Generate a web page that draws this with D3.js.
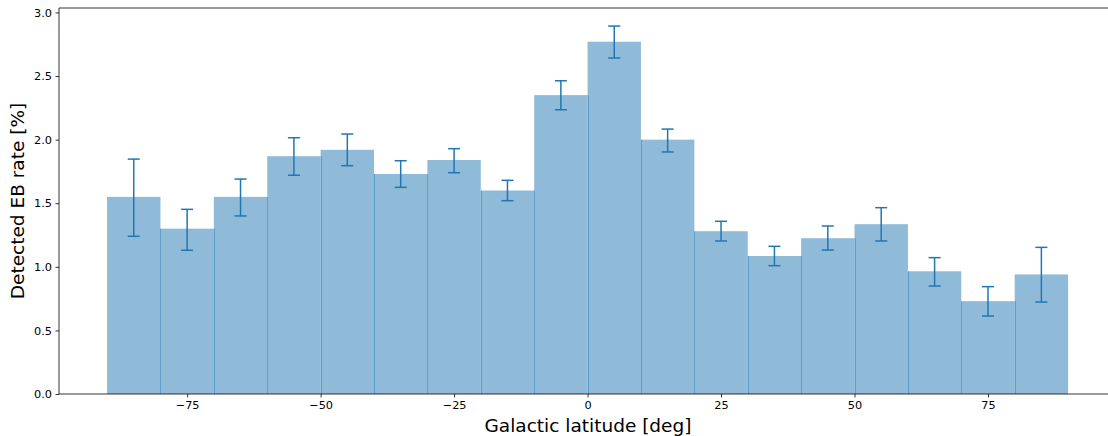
<!DOCTYPE html>
<html>
<head>
<meta charset="utf-8">
<script src="https://cdn.jsdelivr.net/npm/d3@7"></script>
<style>
  body { margin: 0; background: #fff; }
  svg { display: block; font-family: "DejaVu Sans", sans-serif; }
</style>
</head>
<body>
<div id="container"></div>
<script>
// bin edges in deg (10 deg bins)
var binLeft = [-90, -80, -70, -60, -50, -40, -30, -20, -10, 0, 10, 20, 30, 40, 50, 60, 70, 80];
var binWidth = 10;
// detected EB rate [%] per bin
var rates = [1.55, 1.30, 1.55, 1.87, 1.92, 1.73, 1.84, 1.60, 2.35, 2.77, 2.00, 1.28, 1.085, 1.225, 1.335, 0.965, 0.73, 0.94];
var errLow = [1.24, 1.13, 1.40, 1.72, 1.795, 1.625, 1.74, 1.52, 2.235, 2.642, 1.903, 1.203, 1.009, 1.132, 1.203, 0.849, 0.613, 0.723];
var errHigh = [1.847, 1.452, 1.69, 2.015, 2.044, 1.834, 1.929, 1.68, 2.463, 2.893, 2.083, 1.358, 1.161, 1.321, 1.465, 1.072, 0.844, 1.153];
var xTicks = [-75, -50, -25, 0, 25, 50, 75];
var yTicks = [0, 0.5, 1.0, 1.5, 2.0, 2.5, 3.0];

var W = 1108, H = 436;
var margin = { top: 8, left: 59, bottom: 42 };
var blue = "#1f77b4";

var svg = d3.select("#container").append("svg").attr("width", W).attr("height", H);

var x = d3.scaleLinear().domain([-99, 99]).range([margin.left, margin.left + 198 * 5.339]);
var y = d3.scaleLinear().domain([0, 3.035]).range([H - margin.bottom, margin.top]);

var data = binLeft.map(function (b, i) {
  return { x0: b, x1: b + binWidth, v: rates[i], lo: errLow[i], hi: errHigh[i] };
});

var plot = svg.append("g");

// bars
plot.selectAll("rect.bar")
  .data(data)
  .enter()
  .append("rect")
  .attr("class", "bar")
  .attr("x", function (d) { return x(d.x0); })
  .attr("width", function (d) { return x(d.x1) - x(d.x0); })
  .attr("y", function (d) { return y(d.v); })
  .attr("height", function (d) { return y(0) - y(d.v); })
  .style("fill", blue)
  .style("fill-opacity", 0.5);

// faint seams where neighbouring bars meet
plot.selectAll("line.seam")
  .data(data.slice(1))
  .enter()
  .append("line")
  .attr("class", "seam")
  .attr("x1", function (d) { return Math.round(x(d.x0)) + 0.5; })
  .attr("x2", function (d) { return Math.round(x(d.x0)) + 0.5; })
  .attr("y1", y(0))
  .attr("y2", function (d, i) { return y(Math.min(d.v, data[i].v)); })
  .style("stroke", blue)
  .style("stroke-opacity", 0.45)
  .style("stroke-width", 1);

// error bars
var eb = plot.selectAll("g.err")
  .data(data)
  .enter()
  .append("g")
  .attr("class", "err")
  .style("stroke", blue)
  .style("stroke-width", 1.5);

eb.append("line")
  .attr("x1", function (d) { return x(d.x0 + binWidth / 2); })
  .attr("x2", function (d) { return x(d.x0 + binWidth / 2); })
  .attr("y1", function (d) { return y(d.lo); })
  .attr("y2", function (d) { return y(d.hi); });

["lo", "hi"].forEach(function (k) {
  eb.append("line")
    .attr("x1", function (d) { return x(d.x0 + binWidth / 2) - 6; })
    .attr("x2", function (d) { return x(d.x0 + binWidth / 2) + 6; })
    .attr("y1", function (d) { return y(d[k]); })
    .attr("y2", function (d) { return y(d[k]); });
});

// axes
var xAxis = svg.append("g")
  .attr("transform", "translate(0," + y(0) + ")")
  .call(d3.axisBottom(x).tickValues(xTicks).tickSize(3.5).tickPadding(3.5)
    .tickFormat(function (d) { return d < 0 ? "\u2212" + Math.abs(d) : d; }));

var yAxis = svg.append("g")
  .attr("transform", "translate(" + margin.left + ",0)")
  .call(d3.axisLeft(y).tickValues(yTicks).tickSize(3.5).tickPadding(3.5).tickFormat(d3.format(".1f")));

[xAxis, yAxis].forEach(function (a) {
  a.select(".domain").remove();
  a.selectAll(".tick line").style("stroke", "#000").style("stroke-width", 0.8);
  a.selectAll(".tick text").style("font-size", "11.3px").style("fill", "#000")
    .style("font-family", "DejaVu Sans, sans-serif");
});

// spines (right spine falls outside the picture)
var spine = svg.append("g").style("stroke", "#000").style("stroke-width", 0.8).style("fill", "none");
spine.append("line").attr("x1", margin.left).attr("x2", W).attr("y1", y(0)).attr("y2", y(0));
spine.append("line").attr("x1", margin.left).attr("x2", W).attr("y1", margin.top).attr("y2", margin.top);
spine.append("line").attr("x1", margin.left).attr("x2", margin.left).attr("y1", margin.top).attr("y2", y(0));

// labels
svg.append("text")
  .attr("x", 588)
  .attr("y", 432)
  .attr("text-anchor", "middle")
  .style("font-size", "18.5px")
  .style("fill", "#000")
  .text("Galactic latitude [deg]");

svg.append("text")
  .attr("transform", "translate(24," + (y(0) + margin.top) / 2 + ") rotate(-90)")
  .attr("text-anchor", "middle")
  .style("font-size", "18.5px")
  .style("fill", "#000")
  .text("Detected EB rate [%]");
</script>
</body>
</html>
